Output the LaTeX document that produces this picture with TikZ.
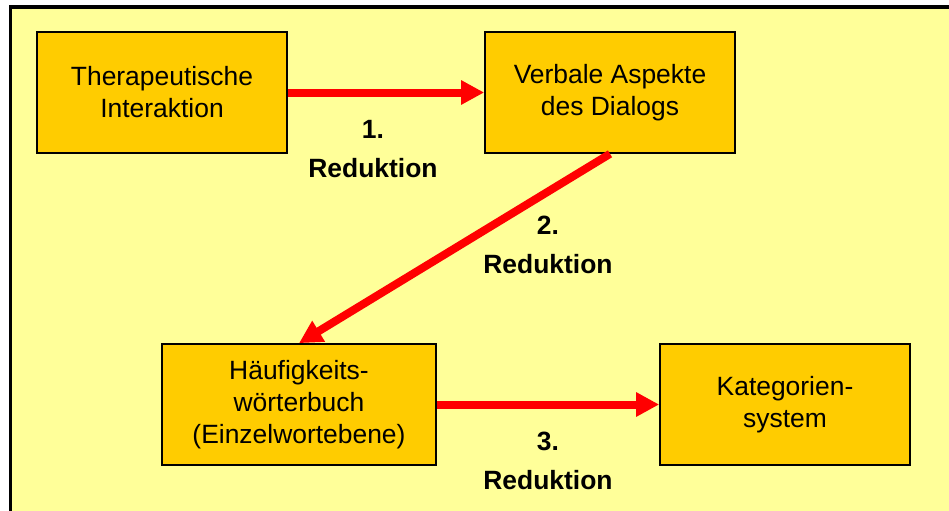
\documentclass[tikz,border=0pt]{standalone}
\usepackage{fontspec}
\setmainfont{Liberation Sans}
\usetikzlibrary{arrows.meta}
\definecolor{paleyellow}{HTML}{FFFF99}
\definecolor{boxorange}{HTML}{FFCC00}
\tikzset{
    box/.style={draw, line width=1.2pt, fill=boxorange, rectangle, minimum height=3.025cm, minimum width=6.25cm, align=center, inner sep=0pt, font=\fontsize{18.8pt}{22.7pt}\selectfont},
    flow/.style={draw=red, line width=0.2cm, -{Triangle[length=0.575cm, width=0.575cm]}},
    lbl/.style={align=center, inner sep=0pt, font=\fontsize{18.8pt}{27.7pt}\selectfont\bfseries}
}
\begin{document}
\begin{tikzpicture}

    \useasboundingbox (0,0) rectangle (23.725,-12.75);
    \clip (0,0) rectangle (23.725,-12.75);
    \draw[line width=2.2pt, fill=paleyellow] (0.2625,-0.175) rectangle (24.5,-13.5);

    \node[box] (interaktion) at (4.05,-2.3125) {Therapeutische\\Interaktion};
    \node[box] (dialog) at (15.25,-2.3125) {Verbale Aspekte\\des Dialogs};
    \node[box, minimum width=6.85cm] (woerterbuch) at (7.475,-10.1125) {Häufigkeits-\\wörterbuch\\(Einzelwortebene)};
    \node[box] (kategorien) at (19.625,-10.1125) {Kategorien-\\system};

    \draw[flow] (interaktion) -- (dialog);
    \draw[flow] (dialog.south) -- (woerterbuch.north);
    \draw[flow] (woerterbuch) -- (kategorien);

    \node[lbl] (red1) at (9.325,-3.725) {1.\\Reduktion};
    \node[lbl] (red2) at (13.7,-6.125) {2.\\Reduktion};
    \node[lbl] (red3) at (13.7,-11.525) {3.\\Reduktion};
\end{tikzpicture}
\end{document}
